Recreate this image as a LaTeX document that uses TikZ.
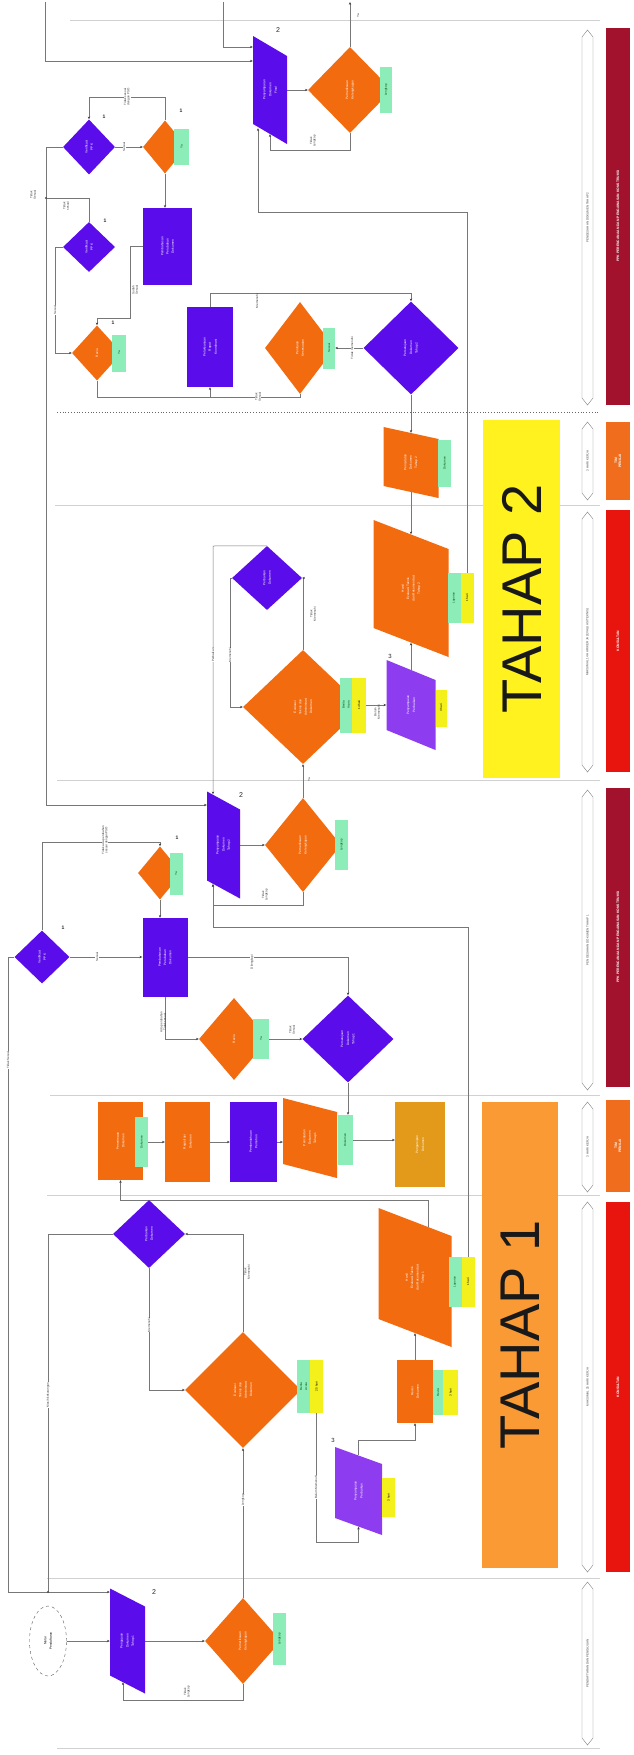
\documentclass[tikz,border=0pt]{standalone}
\usepackage{fontspec}
\setmainfont{Liberation Sans}
\usepackage{graphicx}
\usetikzlibrary{shapes.geometric,arrows.meta}
\pgfdeclarelayer{bg}
\pgfdeclarelayer{wires}
\pgfsetlayers{bg,wires,main}

\definecolor{orn}{HTML}{F26B0F}
\definecolor{pur}{HTML}{5A0CEA}
\definecolor{lpur}{HTML}{8E3CF0}
\definecolor{tagg}{HTML}{8DEDB8}
\definecolor{tagy}{HTML}{F3F01C}
\definecolor{ylw}{HTML}{FFF21F}
\definecolor{tah}{HTML}{F99A35}
\definecolor{gold}{HTML}{E39A1B}
\definecolor{dred}{HTML}{A2122C}
\definecolor{bred}{HTML}{E8140E}
\definecolor{bora}{HTML}{EF6D1D}
\definecolor{linec}{HTML}{777777}

\newcommand\nodefont{\fontsize{3.2}{3.7}\selectfont}
\newcommand\lblfont{\fontsize{3}{3.4}\selectfont}
\newcommand\vt[1]{\rotatebox{90}{\shortstack{#1}}}

\tikzset{
  shp/.style={inner sep=0pt, text=white, font=\nodefont},
  od/.style={shp, diamond, fill=orn},
  pd/.style={shp, diamond, fill=pur},
  pr/.style={shp, rectangle, fill=pur},
  orr/.style={shp, rectangle, fill=orn},
  pg/.style n args={2}{shp, rectangle, path picture={
      \fill[#1] (path picture bounding box.north west)
        -- ([yshift=-#2]path picture bounding box.north east)
        -- (path picture bounding box.south east)
        -- ([yshift=#2]path picture bounding box.south west) -- cycle;}},
  tg/.style={rectangle, inner sep=0pt, fill=tagg, text=green!30!black, font=\lblfont},
  ty/.style={rectangle, inner sep=0pt, fill=tagy, text=black, font=\lblfont},
  wire/.style={draw=linec, line width=0.5pt},
  arr/.style={wire, -{Stealth[length=2.8pt,width=2.4pt,color=black!75]}},
  lbl/.style={font=\lblfont, text=black!80, inner sep=0.4pt, rotate=90, align=center},
  lblw/.style={lbl, fill=white},
  numtag/.style={font=\fontsize{5}{5}\selectfont\bfseries, text=black!85, inner sep=0pt},
  laneline/.style={draw=black!18, line width=0.6pt},
  lanetxt/.style={font=\lblfont, text=black!75, rotate=90, inner sep=0pt},
  bartxt/.style={font=\fontsize{3.4}{3.9}\selectfont\bfseries, text=white, rotate=90, align=center, inner sep=0pt},
  bigtxt/.style={font=\fontsize{56}{56}\selectfont, text=black!90, rotate=90, inner sep=0pt}
}

\newcommand\lanetag[4]{%
  \fill[white, draw=black!50, line width=0.4pt] (587.5,#1) -- (593,#1+7) -- (593,#2-7)
    -- (587.5,#2) -- (582,#2-7) -- (582,#1+7) -- cycle;
  \node[lanetxt] (#4) at (587.5,{(#1+#2)/2}) {#3};}

\begin{document}
\begin{tikzpicture}[x=1pt,y=-1pt]
\useasboundingbox (0,0) rectangle (633,1755);
\begin{pgfonlayer}{bg}
  \fill[white] (0,0) rectangle (633,1755);
  % swimlane separators
  \draw[laneline] (70,20) -- (600,20);
  \draw[black!60, line width=0.8pt, dotted] (57,412) -- (600,412);
  \draw[laneline] (55,505) -- (600,505);
  \draw[laneline] (57,780) -- (600,780);
  \draw[laneline] (50,1095) -- (600,1095);
  \draw[laneline] (47,1195) -- (600,1195);
  \draw[laneline] (47,1578) -- (600,1578);
  \draw[laneline] (57,1748) -- (600,1748);
\end{pgfonlayer}

% stage panels
\fill[ylw] (483,420) rectangle (560,778);
\node[bigtxt] (tahap2) at (521.5,599) {TAHAP 2};
\fill[tah] (482,1102) rectangle (558,1568);
\node[bigtxt] (tahap1) at (520,1335) {TAHAP 1};

% lane captions
\lanetag{30}{405}{PENGESAHAN DOKUMEN TAHAP 2}{lt1}
\lanetag{422}{500}{3 HARI KERJA}{lt2}
\lanetag{512}{772}{MAKSIMAL 14 HARI KERJA (EVALUASI TEKNIS)}{lt3}
\lanetag{790}{1090}{PENGESAHAN DOKUMEN TAHAP 1}{lt4}
\lanetag{1102}{1192}{3 HARI KERJA}{lt5}
\lanetag{1202}{1572}{MAKSIMAL 25 HARI KERJA}{lt6}
\lanetag{1582}{1745}{PENDAFTARAN DAN PENGAJUAN}{lt7}

% lane owners
\fill[dred] (606,28) rectangle (630,405);
\node[bartxt] (b1) at (618,216) {PPK PERENCANAAN DAN PENGAWASAN KONSTRUKSI};
\fill[bora] (606,422) rectangle (630,500);
\node[bartxt] (b2) at (618,461) {TIM\\PENILAI};
\fill[bred] (606,510) rectangle (630,772);
\node[bartxt] (b3) at (618,641) {KONSULTAN};
\fill[dred] (606,788) rectangle (630,1087);
\node[bartxt] (b4) at (618,937) {PPK PERENCANAAN DAN PENGAWASAN KONSTRUKSI};
\fill[bora] (606,1100) rectangle (630,1192);
\node[bartxt] (b5) at (618,1146) {TIM\\PENILAI};
\fill[bred] (606,1202) rectangle (630,1572);
\node[bartxt] (b6) at (618,1387) {KONSULTAN};

% ---------- lane 1 ----------
\node[pg={pur}{20pt}, minimum width=34pt, minimum height=108pt] (p2top) at (270,90) {\vt{Penyampaian\\Dokumen\\Final}};
\node[od, minimum width=84pt, minimum height=86pt] (d1top) at (350,90) {\vt{Pemeriksaan\\Kelengkapan}};
\node[tg, minimum width=12pt, minimum height=46pt] (g1t) at (386,90) {\vt{Lengkap}};
\node[pd, minimum width=52pt, minimum height=55pt] (pd1a) at (89,147) {\vt{Verifikasi\\PPK}};
\node[od, minimum width=44pt, minimum height=53pt] (od1a) at (165,147) {};
\node[tg, minimum width=15pt, minimum height=36pt] (g1a) at (181.5,147) {\vt{Ya}};
\node[pr, minimum width=49pt, minimum height=77pt] (pr1) at (167.5,246.5) {\vt{Pembahasan\\Perubahan\\Dokumen}};
\node[pd, minimum width=52pt, minimum height=50pt] (pd1b) at (89,247) {\vt{Verifikasi\\PPK}};
\node[od, minimum width=50pt, minimum height=55pt] (od1b) at (97,353) {\vt{Reviu}};
\node[tg, minimum width=14pt, minimum height=37pt] (g1b) at (119,353) {\vt{Ya}};
\node[pr, minimum width=46pt, minimum height=80pt] (pr2) at (210,347) {\vt{Pelaksanaan\\Rapat\\Koordinasi}};
\node[od, minimum width=70pt, minimum height=92pt] (od1c) at (300,348) {\vt{Penilaian\\Kesesuaian}};
\node[tg, minimum width=12pt, minimum height=41pt] (g1c) at (329,348) {\vt{Sesuai}};
\node[pd, minimum width=95pt, minimum height=93pt] (pd1c) at (411,348) {\vt{Persetujuan\\Dokumen\\Tahap 2}};

% ---------- lane 2 ----------
\node[pg={orn}{12pt}, minimum width=55pt, minimum height=71pt] (om2) at (411,462.5) {\vt{Pencatatan\\Dokumen\\Tahap 2}};
\node[tg, minimum width=13pt, minimum height=47pt] (g2) at (444.5,463) {\vt{Dokumen}};

% ---------- lane 3 ----------
\node[pg={orn}{29pt}, minimum width=75pt, minimum height=137pt] (t2) at (411,588.5) {\vt{Hasil\\Evaluasi Teknis\\dan Rekomendasi\\Tahap 2}};
\node[tg, minimum width=13pt, minimum height=50pt] (g3t) at (454,598) {\vt{Laporan}};
\node[ty, minimum width=13pt, minimum height=50pt] (y3t) at (467,598) {\vt{1 hari}};
\node[pg={lpur}{20pt}, minimum width=49pt, minimum height=90pt] (pp3) at (411,705) {\vt{Penyampaian\\Perbaikan}};
\node[ty, minimum width=11pt, minimum height=37pt] (y3p) at (441,708) {\vt{3 hari}};
\node[od, minimum width=120pt, minimum height=114pt] (bod3) at (303,707) {\vt{Evaluasi\\Teknis dan\\Administrasi\\Dokumen}};
\node[tg, minimum width=12pt, minimum height=55pt] (g3b) at (346,705) {\vt{Berita\\Acara}};
\node[ty, minimum width=14pt, minimum height=55pt] (y3b) at (359,705) {\vt{14 hari}};
\node[pd, minimum width=70pt, minimum height=64pt] (ppd3) at (267,578) {\vt{Perbaikan\\Dokumen}};

% ---------- lane 4 ----------
\node[pg={pur}{18pt}, minimum width=33pt, minimum height=107pt] (p2mid) at (223.5,845) {\vt{Penyampaian\\Dokumen\\Tahap 2}};
\node[od, minimum width=76pt, minimum height=94pt] (od4a) at (303,845) {\vt{Pemeriksaan\\Kelengkapan}};
\node[tg, minimum width=13pt, minimum height=50pt] (g4a) at (341.5,845) {\vt{Lengkap}};
\node[pd, minimum width=55pt, minimum height=53pt] (pd4a) at (42,957) {\vt{Verifikasi\\PPK}};
\node[od, minimum width=44pt, minimum height=53pt] (od4s) at (160,873) {};
\node[tg, minimum width=13pt, minimum height=42pt] (g4s) at (176,874) {\vt{Ya}};
\node[pr, minimum width=45pt, minimum height=79pt] (pr4) at (165,957.5) {\vt{Pembahasan\\Perubahan\\Dokumen}};
\node[od, minimum width=70pt, minimum height=82pt] (od4b) at (234,1039) {\vt{Reviu}};
\node[tg, minimum width=16pt, minimum height=40pt] (g4b) at (261,1039) {\vt{Ya}};
\node[pd, minimum width=91pt, minimum height=87pt] (pd4b) at (348,1039) {\vt{Persetujuan\\Dokumen\\Tahap 1}};

% ---------- lane 5 ----------
\node[orr, minimum width=45pt, minimum height=78pt] (ra) at (120.5,1141) {\vt{Penerimaan\\Dokumen}};
\node[tg, minimum width=13pt, minimum height=50pt] (g5a) at (141.5,1142) {\vt{Dokumen}};
\node[orr, minimum width=45pt, minimum height=80pt] (rb) at (187.5,1142) {\vt{Registrasi\\Dokumen}};
\node[pr, minimum width=47pt, minimum height=80pt] (rc) at (253.5,1142) {\vt{Pemberitahuan\\Pemohon}};
\node[pg={orn}{14pt}, minimum width=54pt, minimum height=80pt] (rd) at (310,1138) {\vt{Pencatatan\\Dokumen\\Tahap 1}};
\node[tg, minimum width=15pt, minimum height=50pt] (g5d) at (345,1140) {\vt{Dokumen}};
\node[shp, rectangle, fill=gold, minimum width=50pt, minimum height=85pt] (re) at (420,1144.5) {\vt{Pengarsipan\\Dokumen}};

% ---------- lane 6 ----------
\node[pd, minimum width=72pt, minimum height=68pt] (ppd6) at (149,1234) {\vt{Perbaikan\\Dokumen}};
\node[od, minimum width=116pt, minimum height=116pt] (bod6) at (243,1390) {\vt{Evaluasi\\Teknis dan\\Administrasi\\Dokumen}};
\node[tg, minimum width=13pt, minimum height=53pt] (g6) at (303.5,1386.5) {\vt{Berita\\Acara}};
\node[ty, minimum width=13pt, minimum height=53pt] (y6) at (316.5,1386.5) {\vt{25 hari}};
\node[pg={orn}{28pt}, minimum width=73pt, minimum height=139pt] (t1) at (415,1277.5) {\vt{Hasil\\Evaluasi Teknis\\dan Rekomendasi\\Tahap 1}};
\node[tg, minimum width=13pt, minimum height=50pt] (g6t) at (455,1282) {\vt{Laporan}};
\node[ty, minimum width=13pt, minimum height=50pt] (y6t) at (468,1282) {\vt{1 hari}};
\node[orr, minimum width=36pt, minimum height=63pt] (or6) at (415,1391.5) {\vt{Revisi\\Dokumen}};
\node[tg, minimum width=10pt, minimum height=45pt] (g6r) at (438,1392.5) {\vt{Revisi}};
\node[ty, minimum width=15pt, minimum height=45pt] (y6r) at (450.5,1392.5) {\vt{3 hari}};
\node[pg={lpur}{17pt}, minimum width=47pt, minimum height=88pt] (pp6) at (358.5,1491) {\vt{Penyampaian\\Perbaikan}};
\node[ty, minimum width=13pt, minimum height=39pt] (y6p) at (388.5,1497.5) {\vt{3 hari}};

% ---------- lane 7 ----------
\node[ellipse, draw=black!65, dashed, line width=0.4pt, fill=white, inner sep=0pt,
      minimum width=37pt, minimum height=70pt, font=\nodefont] (start) at (48,1641) {\vt{Mulai\\Pendaftaran}};
\node[pg={pur}{18pt}, minimum width=35pt, minimum height=105pt] (p2bot) at (127.5,1641) {\vt{Pengajuan\\Dokumen\\Tahap 1}};
\node[od, minimum width=76pt, minimum height=86pt] (od7) at (243,1641) {\vt{Pemeriksaan\\Kelengkapan}};
\node[tg, minimum width=13pt, minimum height=52pt] (g7) at (279.5,1639) {\vt{Lengkap}};

% reference markers
\node[numtag] (m1a) at (104,117) {1};
\node[numtag] (m1b) at (181,111) {1};
\node[numtag] (m1c) at (105,221) {1};
\node[numtag] (m1d) at (113,323) {1};
\node[numtag] (m1e) at (63,928) {1};
\node[numtag] (m1f) at (177,838) {1};
\node[numtag, font=\fontsize{7}{7}\selectfont] (m2a) at (278,30) {2};
\node[numtag, font=\fontsize{7}{7}\selectfont] (m2b) at (241,795) {2};
\node[numtag, font=\fontsize{7}{7}\selectfont] (m2c) at (154,1592) {2};
\node[numtag, font=\fontsize{6}{6}\selectfont] (m3a) at (390,656) {3};
\node[numtag, font=\fontsize{6}{6}\selectfont] (m3b) at (333,1440) {3};

% free ends at the sheet edge
\coordinate (top1) at (45,2);
\coordinate (top2) at (223,2);
\coordinate (out1) at (350,2);

\begin{pgfonlayer}{wires}
  % lane 1
  \draw[arr] (top1) |- ([yshift=29pt]p2top.west);
  \draw[arr] (top2) |- ([yshift=43pt]p2top.west);
  \draw[arr] (p2top.east) -- (d1top.west);
  \draw[arr] (d1top.north) -- (out1);
  \draw[arr] (d1top.south) -- ++(0,17) -| ([yshift=10pt]p2top.south);
  \draw[arr] (y3t.north) |- (258,212) -- ([xshift=-12pt,yshift=16pt]p2top.south);
  \draw[arr] (pd1a.west) -| (46,805) -- ([yshift=40pt]p2mid.west);
  \draw[wire] (pd1b.north) |- (46,198);
  \fill[black!70] (46,198) circle (1.1pt);
  \draw[arr] (od1a.north) -- ++(0,-23) -| (pd1a.north);
  \draw[arr] (pd1a.east) -- (od1a.west);
  \draw[arr] (od1a.south) -- (od1a.south |- pr1.north);
  \draw[arr] (pr1.west) -| (130,318) -| (od1b.north);
  \draw[arr] (pd1b.west) -| (55,353) -- (od1b.west);
  \draw[arr] (od1b.south) |- (210,397) -- (pr2.south);
  \draw[wire] (od1c.south) |- (210,397);
  \draw[arr] (pr2.north) |- (411,293) -- (pd1c.north);
  \draw[arr] (pd1c.west) -- (g1c.east);
  \draw[arr] (pd1c.south) -- ([yshift=-6pt]om2.north);
  % lanes 2-3
  \draw[arr] ([yshift=6pt]om2.south) -- ([yshift=-14.5pt]t2.north);
  \draw[arr] ([yshift=-10pt]pp3.north) -- ([yshift=14.5pt]t2.south);
  \draw[arr] (y3b.east) -- (pp3.west);
  \draw[arr] (bod3.north) |- (ppd3.east);
  \draw[arr] (ppd3.west) -| (230,707) -- (bod3.west);
  \draw[arr] (ppd3.north) -- (213,546) -- ([xshift=-10.5pt,yshift=-3pt]p2mid.north);
  % lane 4
  \draw[arr] (p2mid.east) -- (od4a.west);
  \draw[arr] (od4a.north) -- (bod3.south);
  \draw[arr] (od4a.south) |- (213,905) -- ([xshift=-10.5pt,yshift=14.5pt]p2mid.south);
  \draw[arr] (y6t.north) |- (213,927) -- ([xshift=-10.5pt,yshift=14.5pt]p2mid.south);
  \draw[arr] (pd4a.north) |- (160,842) -- (od4s.north);
  \draw[arr] (pd4a.west) -| (8,1592) -- ([yshift=49pt]p2bot.west);
  \draw[arr] (pd4a.east) -- (pd4a.east -| pr4.west);
  \draw[arr] (od4s.south) -- (od4s.south |- pr4.north);
  \draw[arr] (pr4.south) |- (od4b.west);
  \draw[arr] (pr4.east) -| (pd4b.north);
  \draw[arr] (g4b.east) -- (pd4b.west);
  \draw[arr] (pd4b.south) -- (pd4b.south |- g5d.north);
  % lane 5
  \draw[arr] (g5a.east) -- (rb.west);
  \draw[arr] (rb.east) -- (rc.west);
  \draw[arr] (rc.east) -- (rc.east -| rd.west);
  \draw[arr] (g5d.east) -- (g5d.east -| re.west);
  \draw[arr] ([xshift=13pt,yshift=-19pt]t1.north) -- (428,1200) -| (ra.south);
  % lane 6
  \draw[arr] (bod6.north) |- (ppd6.east);
  \draw[arr] (ppd6.south) |- (bod6.west);
  \draw[wire] (ppd6.west) -| (48,1592);
  \fill[black!70] (48,1592) circle (1.1pt);
  \draw[arr] (od7.north) -- (bod6.south);
  \draw[arr] (y6.south) |- (358.5,1542) -- ([yshift=8.5pt]pp6.south);
  \draw[arr] ([yshift=-8.5pt]pp6.north) |- (415,1440) -- (or6.south);
  \draw[arr] (or6.north) -- ([yshift=14pt]t1.south);
  % lane 7
  \draw[arr] (start.east) -- (p2bot.west);
  \draw[arr] (p2bot.east) -- (od7.west);
  \draw[arr] (od7.south) |- (123,1700) -- ([xshift=-4.5pt,yshift=11.5pt]p2bot.south);
\end{pgfonlayer}

% connector captions
\node[lbl] (c1) at (358,16) {Ya};
\node[lbl] (c2) at (313,141) {Tidak\\Lengkap};
\node[lblw] (c3) at (33,195) {Tidak\\Sesuai};
\node[lbl] (c4) at (66,206) {Tidak\\sesuai};
\node[lblw] (c5) at (127,97) {Tidak sesuai\\dengan PSO};
\node[lblw] (c6) at (124,147) {Sesuai};
\node[lblw] (c7) at (135,290) {Sudah\\Sesuai};
\node[lblw] (c8) at (55,310) {Sesuai};
\node[lblw] (c9) at (258,397) {Tidak\\Sesuai};
\node[lblw] (c10) at (257,301) {Memenuhi};
\node[lblw] (c11) at (352,348) {Tidak memenuhi};
\node[lbl] (c12) at (377,712) {Belum\\Memenuhi};
\node[lbl] (c13) at (313,614) {Tidak\\Memenuhi};
\node[lblw] (c14) at (230,655) {Memenuhi};
\node[lblw] (c15) at (213,655) {Perbaikan};
\node[lbl] (c16) at (309,780) {Ya};
\node[lbl] (c17) at (265,895) {Tidak\\Lengkap};
\node[lblw] (c18) at (105,840) {Tidak ada perubahan\\sesuai dengan PSO};
\node[lblw] (c19) at (8,1060) {Tidak Sesuai};
\node[lblw] (c20) at (97,957) {Sesuai};
\node[lbl] (c21) at (163,1022) {Ada perubahan\\Tidak sesuai};
\node[lblw] (c22) at (252,962) {Dilengkapi};
\node[lbl] (c23) at (292,1030) {Tidak\\Sesuai};
\node[lbl] (c24) at (247,1272) {Tidak\\Memenuhi};
\node[lblw] (c25) at (149,1325) {Memenuhi};
\node[lblw] (c26) at (48,1395) {Masih kekurangan};
\node[lblw] (c27) at (316,1487) {Belum Memenuhi};
\node[lblw] (c28) at (243,1500) {Lengkap};
\node[lbl] (c29) at (187,1692) {Tidak\\Lengkap};
\end{tikzpicture}
\end{document}
